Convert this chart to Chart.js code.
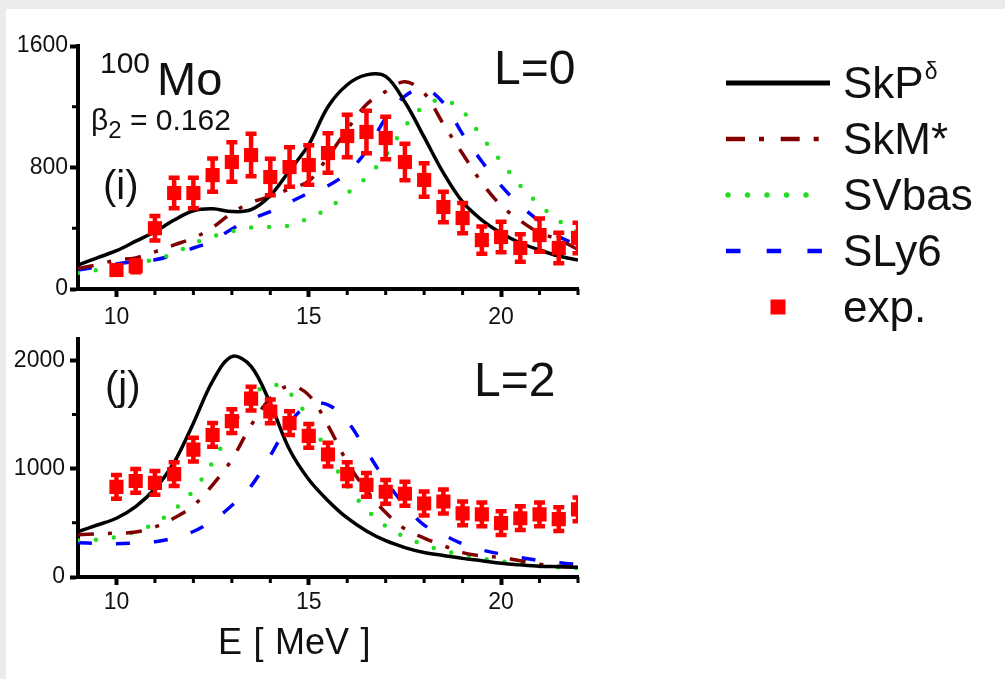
<!DOCTYPE html>
<html>
<head>
<meta charset="utf-8">
<script src="https://cdn.jsdelivr.net/npm/chart.js@4.4.0/dist/chart.umd.min.js"></script>
<style>
  body { margin: 0; background: #ebebeb; width: 1005px; height: 679px; overflow: hidden; position: relative;
         font-family: "Liberation Sans", Arial, sans-serif; }
  #sheet { position: absolute; left: 6px; top: 9px; width: 999px; height: 670px; background: #fff; }
  canvas { position: absolute; left: 0; }
  .lbl { position: absolute; line-height: 1; white-space: nowrap; color: #111; }
  .lbl sub { font-size: 24px; vertical-align: -8px; line-height: 0; }
</style>
</head>
<body>
<div id="sheet"></div>
<canvas id="chartL0" width="1005" height="332" style="top:0"></canvas>
<canvas id="chartL2" width="1005" height="359" style="top:320px"></canvas>

<div class="lbl" style="left:100px;top:48px;font-size:30px">100</div>
<div class="lbl" style="left:157px;top:55px;font-size:47px">Mo</div>
<div class="lbl" style="left:91px;top:105px;font-size:30px">β<sub>2</sub> = 0.162</div>
<div class="lbl" style="left:103px;top:165px;font-size:40px">(i)</div>
<div class="lbl" style="left:494px;top:44px;font-size:48px">L=0</div>
<div class="lbl" style="left:105px;top:366px;font-size:40px">(j)</div>
<div class="lbl" style="left:474px;top:356px;font-size:48px">L=2</div>
<div class="lbl" style="left:218px;top:624px;font-size:36px;word-spacing:1.5px">E [ MeV ]</div>

<script>
// energy grids (MeV)
const energy = [9, 9.5, 10, 10.5, 11, 11.5, 12, 12.5, 13, 13.5, 14, 14.5, 15, 15.5, 16, 16.5, 17, 17.5, 18, 18.5, 19, 19.5, 20, 20.5, 21, 21.5, 22];
const expEnergy = [10, 10.5, 11, 11.5, 12, 12.5, 13, 13.5, 14, 14.5, 15, 15.5, 16, 16.5, 17, 17.5, 18, 18.5, 19, 19.5, 20, 20.5, 21, 21.5, 22];

// L=0 strength
const skpL0 = [158, 205, 252, 315, 377, 454, 515, 528, 510, 522, 615, 780, 950, 1200, 1345, 1410, 1400, 1231, 1000, 764, 573, 454, 369, 303, 257, 217, 191];
const skmL0 = [135, 160, 191, 205, 245, 290, 336, 405, 500, 570, 610, 660, 710, 870, 1050, 1215, 1300, 1365, 1290, 1086, 890, 700, 550, 450, 370, 325, 260];
const svbL0 = [105, 125, 150, 170, 195, 235, 300, 345, 380, 405, 408, 418, 467, 530, 630, 735, 880, 1070, 1205, 1245, 1170, 1000, 840, 680, 555, 450, 369];
const slyL0 = [125, 145, 165, 180, 192, 225, 270, 316, 395, 460, 510, 570, 632, 680, 765, 910, 1126, 1270, 1320, 1225, 1020, 840, 680, 550, 445, 345, 290];
const expL0 = [125, 150, 400, 632, 632, 750, 836, 882, 737, 803, 816, 895, 1007, 1034, 994, 836, 718, 540, 467, 322, 342, 270, 355, 270, 336];
const errL0 = [30, 40, 80, 100, 100, 110, 130, 140, 120, 130, 130, 130, 140, 140, 140, 120, 110, 100, 100, 90, 100, 90, 110, 100, 100];

// L=2 strength
const skpL2 = [420, 480, 543, 651, 815, 1059, 1421, 1810, 2036, 1946, 1602, 1177, 900, 705, 545, 425, 335, 272, 226, 199, 172, 150, 127, 112, 100, 95, 90];
const skmL2 = [390, 398, 405, 415, 462, 545, 660, 850, 1086, 1400, 1650, 1765, 1680, 1400, 1060, 800, 595, 443, 360, 290, 225, 195, 180, 150, 118, 100, 90];
const svbL2 = [340, 345, 371, 420, 495, 620, 800, 1060, 1380, 1660, 1780, 1700, 1460, 1140, 840, 625, 470, 370, 297, 245, 205, 172, 145, 125, 100, 90, 82];
const slyL2 = [317, 310, 308, 315, 326, 360, 420, 520, 660, 840, 1120, 1420, 1590, 1590, 1439, 1165, 890, 660, 480, 390, 305, 250, 212, 180, 152, 132, 115];
const expL2 = [833, 887, 869, 950, 1177, 1312, 1439, 1647, 1529, 1421, 1303, 1131, 950, 851, 787, 769, 679, 697, 588, 579, 498, 543, 579, 534, 624];
const errL2 = [110, 110, 110, 110, 110, 110, 110, 110, 110, 110, 110, 110, 110, 110, 110, 110, 110, 110, 110, 110, 110, 110, 110, 110, 110];

// ticks
const xTicks = [10, 15, 20];
const xMinor = [11, 12, 13, 14, 16, 17, 18, 19, 21, 22];
const yTicksL0 = [0, 800, 1600];
const yMinorL0 = [400, 1200];
const yTicksL2 = [0, 1000, 2000];
const yMinorL2 = [500, 1500];

const pts = (xs, ys) => xs.map((x, i) => ({ x: x, y: ys[i] }));

// Series styles
const styles = {
    skp: { label: 'SkP', sup: 'δ', borderColor: '#000000', borderWidth: 3.5, legendWidth: 5 },
    skm: { label: 'SkM*', borderColor: '#800000', borderWidth: 3.5, borderDash: [16, 14, 4, 14], legendDash: [19, 14, 5, 16.7] },
    svb: { label: 'SVbas', borderColor: '#22dd22', borderWidth: 4.5, borderDash: [0, 18], borderCapStyle: 'round', legendDash: [0, 19.5] },
    sly: { label: 'SLy6', borderColor: '#0000ff', borderWidth: 3.5, borderDash: [14, 24], legendDash: [14.5, 26.2] }
};

function lineSet(key, values) {
    return Object.assign({
        data: pts(energy, values),
        pointRadius: 0,
        fill: false,
        tension: 0.35,
        order: 1
    }, styles[key]);
}

function expSet(values, errors) {
    return {
        label: 'exp.',
        data: pts(expEnergy, values),
        errors: errors,
        showLine: false,
        pointStyle: 'rect',
        pointRadius: 10,
        pointBorderWidth: 0,
        backgroundColor: '#ff0000',
        borderColor: '#ff0000',
        order: 0
    };
}

// error bars from the y scale
const errorBars = {
    id: 'errorBars',
    afterDatasetsDraw(chart) {
        const { ctx, chartArea, scales: { x, y } } = chart;
        chart.data.datasets.forEach(ds => {
            if (!ds.errors) return;
            ctx.save();
            ctx.beginPath();
            ctx.rect(chartArea.left, chartArea.top, chartArea.right - chartArea.left, chartArea.bottom - chartArea.top);
            ctx.clip();
            ctx.strokeStyle = ds.backgroundColor;
            ctx.lineWidth = 4.5;
            ds.data.forEach((p, i) => {
                const px = x.getPixelForValue(p.x);
                const lo = y.getPixelForValue(p.y - ds.errors[i]);
                const hi = y.getPixelForValue(p.y + ds.errors[i]);
                ctx.beginPath();
                ctx.moveTo(px, lo); ctx.lineTo(px, hi);
                ctx.moveTo(px - 5.5, lo); ctx.lineTo(px + 5.5, lo);
                ctx.moveTo(px - 5.5, hi); ctx.lineTo(px + 5.5, hi);
                ctx.stroke();
            });
            ctx.restore();
        });
    }
};

// short minor ticks
const minorTicks = {
    id: 'minorTicks',
    afterDraw(chart, args, opts) {
        const { ctx, chartArea, scales } = chart;
        ctx.save();
        ctx.strokeStyle = '#000';
        ctx.lineWidth = 3;
        ctx.beginPath();
        opts.x.forEach(v => {
            const px = scales.x.getPixelForValue(v);
            ctx.moveTo(px, chartArea.bottom);
            ctx.lineTo(px, chartArea.bottom + 6);
        });
        opts.y.forEach(v => {
            const py = scales.y.getPixelForValue(v);
            ctx.moveTo(chartArea.left, py);
            ctx.lineTo(chartArea.left - 6, py);
        });
        ctx.stroke();
        ctx.restore();
    }
};

// legend on the right side of the top panel
const sideLegend = {
    id: 'sideLegend',
    afterDraw(chart, args, opts) {
        if (!opts.show) return;
        const ctx = chart.ctx;
        const x0 = 726, x1 = 822, textX = 843;
        ctx.save();
        chart.data.datasets.forEach((ds, i) => {
            const y = 83 + i * 56;
            if (ds.errors) {
                ctx.fillStyle = ds.backgroundColor;
                ctx.fillRect(770.5, y - 7.5, 15, 15);
            } else {
                ctx.beginPath();
                ctx.strokeStyle = ds.borderColor;
                ctx.lineWidth = ds.legendWidth || ds.borderWidth + 1;
                ctx.lineCap = ds.borderCapStyle || 'butt';
                ctx.setLineDash(ds.legendDash || []);
                ctx.moveTo(x0 + (ds.borderCapStyle === 'round' ? 2 : 0), y);
                ctx.lineTo(ds.sup ? 830 : x1, y);
                ctx.stroke();
            }
            ctx.setLineDash([]);
            ctx.fillStyle = '#111';
            ctx.textBaseline = 'alphabetic';
            ctx.textAlign = 'left';
            ctx.font = '44px "Liberation Sans", Arial, sans-serif';
            ctx.fillText(ds.label, textX, y + 15);
            if (ds.sup) {
                const w = ctx.measureText(ds.label).width;
                ctx.font = '23px "Liberation Sans", Arial, sans-serif';
                ctx.fillText(ds.sup, textX + w + 1, y - 4);
            }
        });
        ctx.restore();
    }
};

function makeOptions(yMax, yTicks, yMinor, padTop, xAxisHeight, xLabelPad, yLabelPad, legend) {
    const tickFont = { size: 23, family: '"Liberation Sans", Arial, sans-serif' };
    return {
        responsive: false,
        animation: false,
        devicePixelRatio: 1,
        layout: { padding: { top: padTop, right: 427, left: 0, bottom: 0 } },
        plugins: {
            legend: { display: false },
            tooltip: { enabled: false },
            minorTicks: { x: xMinor, y: yMinor },
            sideLegend: { show: legend }
        },
        scales: {
            x: {
                type: 'linear',
                min: 9,
                max: 22,
                grid: { drawOnChartArea: false, tickLength: 8, tickWidth: 4, tickColor: '#000' },
                border: { display: true, width: 4, color: '#000' },
                ticks: { color: '#111', font: tickFont, padding: xLabelPad, maxRotation: 0, callback: v => String(v) },
                afterBuildTicks: s => { s.ticks = xTicks.map(v => ({ value: v })); },
                afterFit: s => { s.height = xAxisHeight; }
            },
            y: {
                min: 0,
                max: yMax,
                grid: { drawOnChartArea: false, tickLength: 8, tickWidth: 4, tickColor: '#000' },
                border: { display: true, width: 4, color: '#000' },
                ticks: { color: '#111', font: tickFont, padding: yLabelPad, callback: v => String(v) },
                afterBuildTicks: s => { s.ticks = yTicks.map(v => ({ value: v })); },
                afterFit: s => { s.width = 78; }
            }
        }
    };
}

new Chart(document.getElementById('chartL0').getContext('2d'), {
    type: 'line',
    data: {
        datasets: [
            lineSet('skp', skpL0),
            lineSet('skm', skmL0),
            lineSet('svb', svbL0),
            lineSet('sly', slyL0),
            expSet(expL0, errL0)
        ]
    },
    options: makeOptions(1600, yTicksL0, yMinorL0, 46, 43, 7, 2, true),
    plugins: [errorBars, minorTicks, sideLegend]
});

new Chart(document.getElementById('chartL2').getContext('2d'), {
    type: 'line',
    data: {
        datasets: [
            lineSet('skp', skpL2),
            lineSet('skm', skmL2),
            lineSet('svb', svbL2),
            lineSet('sly', slyL2),
            expSet(expL2, errL2)
        ]
    },
    options: makeOptions(2200, yTicksL2, yMinorL2, 14, 102, 4, 5, false),
    plugins: [errorBars, minorTicks, sideLegend]
});
</script>
</body>
</html>
